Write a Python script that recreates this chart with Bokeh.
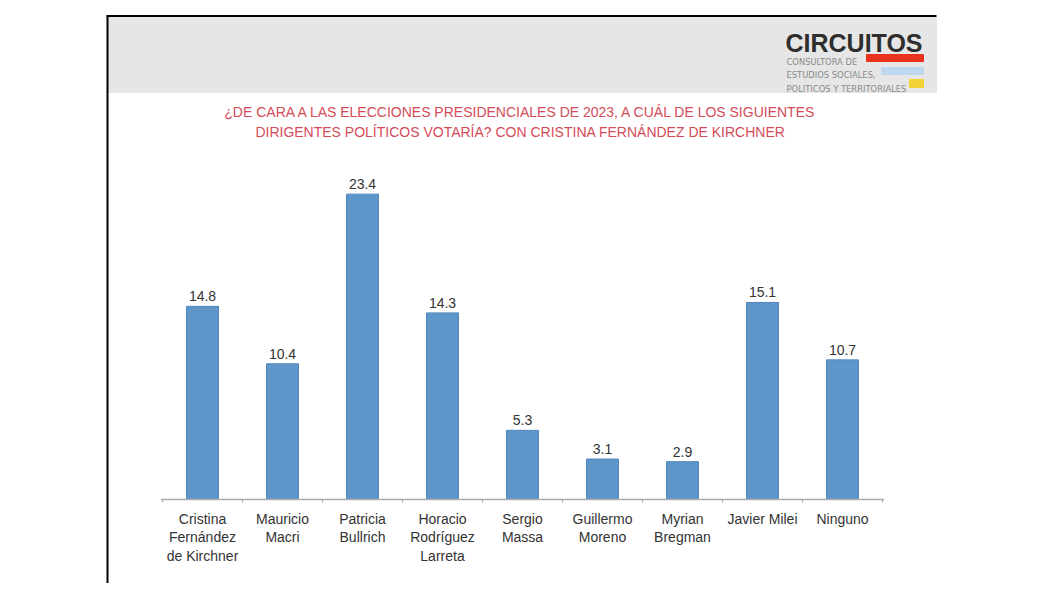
from bokeh.plotting import figure
from bokeh.models import ColumnDataSource, FactorRange, Range1d
from bokeh.transform import dodge
from bokeh.core.properties import value
from bokeh.embed import file_html
from bokeh.resources import INLINE

candidatos = ["Cristina\nFernández\nde Kirchner", "Mauricio\nMacri", "Patricia\nBullrich",
              "Horacio\nRodríguez\nLarreta", "Sergio\nMassa", "Guillermo\nMoreno",
              "Myrian\nBregman", "Javier Milei", "Ninguno"]
votos = [14.8, 10.4, 23.4, 14.3, 5.3, 3.1, 2.9, 15.1, 10.7]
etiquetas = ["14.8", "10.4", "23.4", "14.3", "5.3", "3.1", "2.9", "15.1", "10.7"]

titulo = ["¿DE CARA A LAS ELECCIONES PRESIDENCIALES DE 2023, A CUÁL DE LOS SIGUIENTES",
          "DIRIGENTES POLÍTICOS VOTARÍA? CON CRISTINA FERNÁNDEZ DE KIRCHNER"]
logo = "CIRCUITOS"
logo_lineas = ["CONSULTORA DE", "ESTUDIOS SOCIALES,", "POLITICOS Y TERRITORIALES"]

FONT = value("Liberation Sans")
PX = 13.05          # pixels per percentage point
W, H = 1044, 583
BASE = 499          # y of the zero line
PAD = 2.025         # category slots of empty space at each side (80px per slot)


def gx(xs):
    # pixel x -> synthetic categorical coordinate
    return [v / 80 - PAD for v in xs]


src = ColumnDataSource(dict(cat=candidatos, votos=votos, lbl=etiquetas))

p = figure(width=W, height=H,
           x_range=FactorRange(*candidatos, range_padding=PAD, range_padding_units="absolute"),
           y_range=Range1d((BASE - H) / PX, BASE / PX),
           output_backend="svg", toolbar_location=None,
           x_axis_location=None, y_axis_location=None,
           min_border_left=0, min_border_right=0, min_border_top=0, min_border_bottom=0)
p.extra_y_ranges = {"px": Range1d(H, 0)}
p.grid.visible = False
p.outline_line_color = None
p.background_fill_color = "white"

# header: frame lines, grey band, logo
p.quad(left=gx([108]), right=gx([936]), top=[17], bottom=[92], color="#e6e6e6",
       y_range_name="px")
p.segment(x0=gx([106, 107]), y0=[15.5, 15], x1=gx([936, 107]), y1=[15.5, H],
          line_color="black", line_width=2, y_range_name="px")
p.text(x=gx([785]), y=[42], text=[logo], text_font=FONT, text_font_style="bold",
       text_font_size="25px", text_color="#2e2e2e", text_baseline="alphabetic",
       y_range_name="px")
p.text(x=gx([786, 786, 786]), y=[60.5, 74, 87.5], text=logo_lineas,
       text_font=value("DejaVu Sans Condensed"), text_font_size="9.3px",
       text_color="#8a8a8a", text_baseline="alphabetic", y_range_name="px")
p.quad(left=gx([866, 881, 909]), right=gx([923, 923, 923]), top=[54, 67, 79], bottom=[61, 74, 87],
       color=["#e8321e", "#bcd7ee", "#f2d335"], y_range_name="px")

# title
p.text(x=gx([521, 520]), y=[111, 131], text=titulo, text_font=FONT, text_font_size="14px",
       text_color="#d44b58", text_align="center", text_baseline="middle",
       y_range_name="px")

# bars
p.vbar(x="cat", top="votos", bottom=0, width=0.4, source=src,
       fill_color="#5f96ca", line_color="#5288bd", line_width=1)
p.text(x="cat", y="votos", text="lbl", source=src, y_offset=-10,
       text_font=FONT, text_font_size="14px", text_color="#333333",
       text_align="center", text_baseline="alphabetic")

# baseline with boundary ticks
ends = ColumnDataSource(dict(a=[candidatos[0]], b=[candidatos[-1]]))
p.segment(x0=dodge("a", -0.52, range=p.x_range), y0=0,
          x1=dodge("b", 0.52, range=p.x_range), y1=0,
          source=ends, line_color="#aaaaaa", line_width=1.5)
p.segment(x0=dodge("cat", -0.5, range=p.x_range), y0=0,
          x1=dodge("cat", -0.5, range=p.x_range), y1=-3 / PX,
          source=src, line_color="#aaaaaa", line_width=1)
p.segment(x0=dodge("b", 0.5, range=p.x_range), y0=0,
          x1=dodge("b", 0.5, range=p.x_range), y1=-3 / PX,
          source=ends, line_color="#aaaaaa", line_width=1)

# category labels
p.text(x="cat", y=0, text="cat", source=src, y_offset=11,
       text_font=FONT, text_font_size="14px", text_color="#333333",
       text_align="center", text_baseline="top", text_line_height=1.18)

open("out.html", "w").write(file_html(p, INLINE))
